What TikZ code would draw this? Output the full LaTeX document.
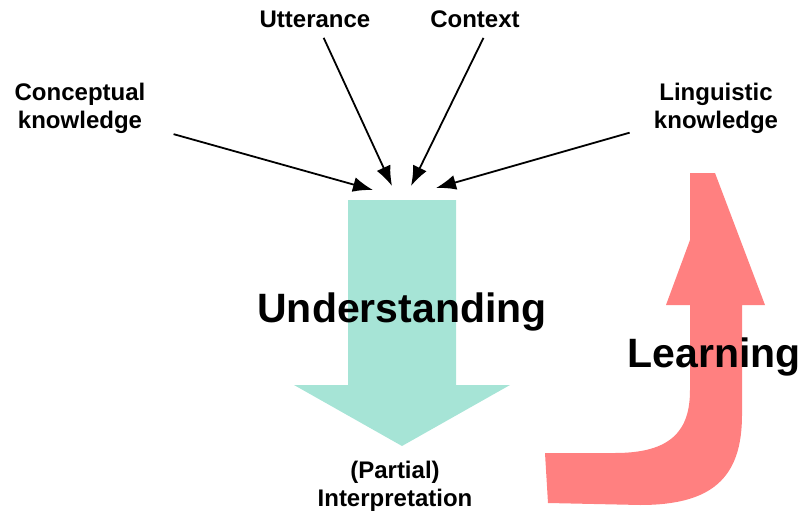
\documentclass[tikz,border=0pt]{standalone}
\usepackage{fontspec}
\setmainfont{Liberation Sans}
\usepackage{tikz}
\usetikzlibrary{arrows.meta}
\definecolor{understand_teal}{RGB}{166,228,214}
\definecolor{learn_red}{RGB}{255,128,128}
\tikzset{
    label_small/.style={font=\fontsize{24}{28}\selectfont\bfseries, align=center, inner sep=3pt},
    label_big/.style={font=\fontsize{41}{48}\selectfont\bfseries, anchor=base, inner sep=0pt},
    arrow/.style={-{Latex[length=20pt,width=15pt]}, line width=1.8pt}
}

\begin{document}
\begin{tikzpicture}[x=1pt, y=-1pt]
            \useasboundingbox (0,0) rectangle (804,514);
            % big arrows
            \fill[understand_teal] (348,200) -- (456,200) -- (456,385) -- (510,385) -- (402,446) -- (294,385) -- (348,385) -- cycle;
            \fill[learn_red] (545,453) -- (615,453) .. controls (672,453) and (690,430) .. (690,390) -- (690,305) -- (666,305) -- (690,240) -- (690,173) -- (715,173) -- (765,305) -- (742,305) -- (742,415) .. controls (742,478) and (712,505) .. (640,505) -- (548,503) -- cycle;

            \node (concept) [label_small] at (80,108) {Conceptual\\knowledge};
            \node (utter) [label_small] at (315,19) {Utterance};
            \node (context) [label_small] at (475,19) {Context};
            \node (ling) [label_small] at (716,108) {Linguistic\\knowledge};
            \node (interp) [label_small] at (395,486) {(Partial)\\Interpretation};
            \node (understand) [label_big] at (402,322) {Understanding};
            \node (learn) [label_big] at (714,367) {Learning};

            \coordinate (tip_concept) at (373,190);
            \coordinate (tip_utter) at (392,186);
            \coordinate (tip_context) at (411,186);
            \coordinate (tip_ling) at (436,188);

            \draw [arrow, shorten <=26pt] (concept) -- (tip_concept);
            \draw [arrow, shorten <=8pt] (utter) -- (tip_utter);
            \draw [arrow, shorten <=8pt] ([xshift=12pt]context.south) -- (tip_context);
            \draw [arrow, shorten <=22pt] (ling) -- (tip_ling);
		\end{tikzpicture}
\end{document}
